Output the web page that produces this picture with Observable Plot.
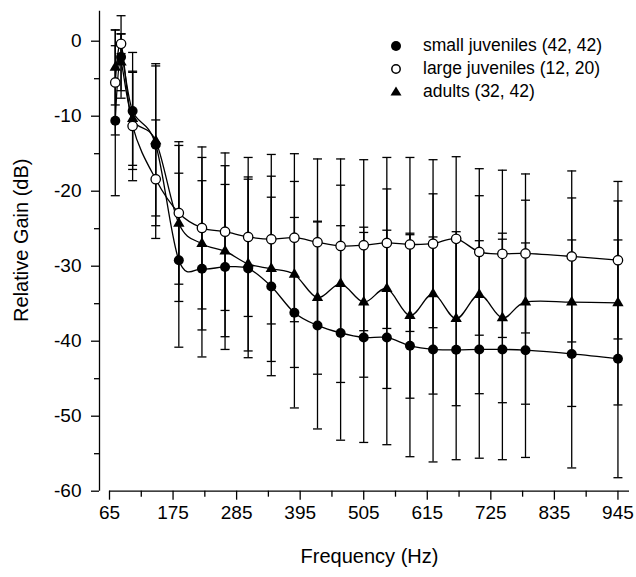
<!DOCTYPE html>
<html>
<head>
<meta charset="utf-8">
<script src="https://cdn.jsdelivr.net/npm/d3@7"></script>
<script src="https://cdn.jsdelivr.net/npm/@observablehq/plot@0.6"></script>
<style>
  html, body { margin: 0; padding: 0; background: #fff; }
  #wrap { position: relative; width: 636px; height: 577px; font-family: "Liberation Sans", Arial, sans-serif; }
  #legend { position: absolute; left: 386px; top: 34px; font-size: 17.5px; color: #000; }
  .row { display: flex; align-items: center; height: 23px; }
  .row svg { width: 20px; height: 20px; margin-right: 17px; }
</style>
</head>
<body>
<div id="wrap"><div id="chart"></div><div id="legend"></div></div>
<script>
// Frequencies (Hz)
const freq = [75, 85, 105, 145, 185, 225, 265, 305, 345, 385, 425, 465, 505, 545, 585, 625, 665, 705, 745, 785, 865, 945];

// small juveniles (filled circles): mean and SD (dB)
const smallMean = [-10.6, -2.1, -9.3, -13.8, -29.2, -30.35, -30.1, -30.3, -32.7, -36.2, -37.9, -38.9, -39.5, -39.5, -40.6, -41.1, -41.15, -41.1, -41.1, -41.2, -41.7, -42.35];
const smallSD   = [10.0, 5.5, 7.8, 10.8, 11.6, 11.75, 11.0, 11.9, 11.9, 12.7, 13.8, 14.3, 14.0, 14.3, 14.8, 15.0, 14.65, 14.5, 14.7, 14.3, 15.2, 15.85];

// large juveniles (open circles)
const largeMean = [-5.5, -0.35, -11.3, -18.4, -22.9, -24.9, -25.4, -26.1, -26.4, -26.2, -26.8, -27.3, -27.2, -26.9, -27.1, -27.0, -26.35, -28.1, -28.35, -28.3, -28.7, -29.2];
const largeSD   = [7.0, 1.3, 7.3, 7.9, 9.5, 10.8, 10.5, 10.6, 11.3, 11.2, 11.1, 11.6, 11.4, 11.4, 11.6, 11.2, 10.95, 11.1, 11.15, 10.6, 11.4, 10.5];

// adults (triangles)
const adultMean = [-3.5, -2.8, -10.35, -13.3, -24.3, -27.0, -28.0, -29.7, -30.35, -31.1, -34.2, -32.35, -34.8, -33.0, -36.6, -33.7, -37.0, -33.8, -36.9, -34.8, -34.8, -34.9];
const adultSD   = [5.0, 3.8, 6.2, 10.0, 10.4, 11.5, 11.4, 11.6, 12.35, 12.4, 10.2, 13.15, 10.0, 13.3, 11.0, 13.35, 11.6, 13.2, 11.3, 13.6, 13.9, 13.6];

const seriesNames = ["small juveniles (42, 42)", "large juveniles (12, 20)", "adults (32, 42)"];

const xTicks = [65, 175, 285, 395, 505, 615, 725, 835, 945];
const xMinor = [120, 230, 340, 450, 560, 670, 780, 890];
const yTicks = [0, -10, -20, -30, -40, -50, -60];
const yMinor = [-5, -15, -25, -35, -45, -55];

const xDomain = [65, 965];
const yDomain = [-60, 4];

function rowsFor(name, mean, sd) {
  return freq.map((f, i) => ({series: name, f, v: mean[i], sd: sd[i]}));
}
const small = rowsFor(seriesNames[0], smallMean, smallSD);
const large = rowsFor(seriesNames[1], largeMean, largeSD);
const adult = rowsFor(seriesNames[2], adultMean, adultSD);
const all = [...small, ...large, ...adult];

const cap = { draw(ctx) { ctx.moveTo(-4.5, 0); ctx.lineTo(4.5, 0); } };
const font = '"Liberation Sans", Arial, sans-serif';

const chart = Plot.plot({
  width: 636,
  height: 577,
  marginLeft: 109,
  marginRight: 7,
  marginTop: 10.7,
  marginBottom: 86.3,
  style: {fontFamily: font, fontSize: "19px", color: "#000", background: "#fff"},
  x: {domain: xDomain},
  y: {domain: yDomain},
  marks: [
    // error bars
    Plot.ruleX(all, {x: "f", y1: d => d.v - d.sd, y2: d => d.v + d.sd, stroke: "#000", strokeWidth: 1.3}),
    Plot.dot(all, {x: "f", y: d => d.v + d.sd, symbol: cap, r: 4, fill: "none", stroke: "#000", strokeWidth: 1.3}),
    Plot.dot(all, {x: "f", y: d => d.v - d.sd, symbol: cap, r: 4, fill: "none", stroke: "#000", strokeWidth: 1.3}),
    // lines
    Plot.line(all, {x: "f", y: "v", z: "series", curve: "cardinal", stroke: "#000", strokeWidth: 1.3}),
    // points
    Plot.dot(large, {x: "f", y: "v", r: 4.7, fill: "#fff", stroke: "#000", strokeWidth: 1.3}),
    Plot.dot(adult, {x: "f", y: "v", symbol: "triangle", r: 4.2, fill: "#000", stroke: "none"}),
    Plot.dot(small, {x: "f", y: "v", r: 5, fill: "#000", stroke: "none"}),
    // axes
    Plot.ruleY([-60], {x1: xDomain[0], x2: xDomain[1], stroke: "#000", strokeWidth: 1.3}),
    Plot.axisX({ticks: xTicks, tickSize: 9, tickPadding: 5, tickFormat: d => String(d), label: null, strokeWidth: 1.3, fontSize: 19}),
    Plot.axisX({ticks: xMinor, tickSize: 6, tickFormat: () => "", label: null, strokeWidth: 1.3}),
    Plot.ruleX([xDomain[0]], {y1: yDomain[0], y2: yDomain[1], dx: -10, stroke: "#000", strokeWidth: 1.3}),
    Plot.axisY({ticks: yTicks, tickSize: 8, tickPadding: 10, dx: -10, tickFormat: d => String(d), label: null, strokeWidth: 1.3, fontSize: 19}),
    Plot.axisY({ticks: yMinor, tickSize: 5, dx: -10, tickFormat: () => "", label: null, strokeWidth: 1.3}),
    // axis titles
    Plot.text(["Frequency (Hz)"], {frameAnchor: "bottom", dy: 72, fontSize: 20, fill: "#000"}),
    Plot.text(["Relative Gain (dB)"], {frameAnchor: "left", textAnchor: "middle", rotate: -90, dx: -88, dy: -11, fontSize: 20, fill: "#000"})
  ]
});
document.getElementById("chart").appendChild(chart);

// legend (HTML)
const legend = document.getElementById("legend");
const symbols = [
  '<circle cx="10" cy="10" r="5" fill="#000"/>',
  '<circle cx="10" cy="10" r="4.2" fill="#fff" stroke="#000" stroke-width="1.5"/>',
  '<path d="M10,4.5 L15.5,13.5 L4.5,13.5 Z" fill="#000"/>'
];
seriesNames.forEach((name, i) => {
  const row = document.createElement("div");
  row.className = "row";
  row.innerHTML = `<svg viewBox="0 0 20 20">${symbols[i]}</svg><span>${name}</span>`;
  legend.appendChild(row);
});
</script>
</body>
</html>
